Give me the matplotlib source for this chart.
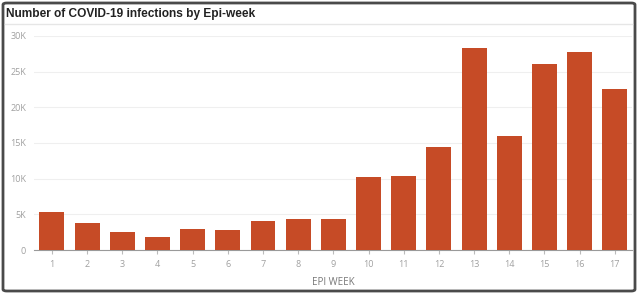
import matplotlib
matplotlib.use("Agg")
import matplotlib.pyplot as plt
from matplotlib.patches import FancyBboxPatch
from matplotlib.lines import Line2D
from matplotlib.ticker import FuncFormatter

weeks = [str(i) for i in range(1, 18)]
infections = [5370, 3830, 2470, 1770, 2900, 2800, 4000, 4380, 4340,
              10270, 10400, 14470, 28300, 15970, 26050, 27800, 22600]
y_ticks = [0, 5000, 10000, 15000, 20000, 25000, 30000]
title = "Number of COVID-19 infections by Epi-week"
x_label = "EPI WEEK"

W, H = 640, 294
fig = plt.figure(figsize=(W / 100, H / 100), dpi=100)
fig.patch.set_facecolor("white")

# outer frame
frame = FancyBboxPatch((3 / W, 3 / H), 632 / W, 288 / H,
                       boxstyle="round,pad=0,rounding_size=0.006",
                       transform=fig.transFigure, fill=False,
                       edgecolor="#4a4a4a", linewidth=2.0)
fig.patches.append(frame)
# title separator
fig.add_artist(Line2D([5 / W, 632 / W], [1 - 24 / H, 1 - 24 / H],
                      transform=fig.transFigure, color="#e6e6e6", lw=1.0))
fig.text(6 / W, 1 - 14 / H, title, fontsize=8.6, fontweight="bold",
         family="Liberation Sans", color="#222222", va="center", ha="left")

left, right = 34.4 / W, 632.3 / W
bottom, top = (H - 250) / H, (H - 35.8) / H
ax = fig.add_axes([left, bottom, right - left, top - bottom])
x = list(range(len(weeks)))
ax.bar(x, infections, width=0.71, color="#C64B26", zorder=3)
ax.set_xlim(-0.5, len(weeks) - 0.5)
ax.set_ylim(0, 30000)
ax.set_xticks(x)
ax.set_xticklabels(weeks)
ax.set_yticks(y_ticks)
ax.yaxis.set_major_formatter(FuncFormatter(lambda v, p: "0" if v == 0 else f"{int(v/1000)}K"))
for s in ["top", "right", "left"]:
    ax.spines[s].set_visible(False)
ax.spines["bottom"].set_color("#9a9a9a")
ax.spines["bottom"].set_linewidth(0.8)
ax.grid(axis="y", color="#efefef", lw=0.8, zorder=0)
ax.tick_params(axis="x", length=3, color="#bbbbbb", labelsize=6.5,
               labelcolor="#a0a0a0", pad=4)
ax.tick_params(axis="y", length=0, labelsize=6.5, labelcolor="#a0a0a0", pad=6)
for lab in ax.get_xticklabels() + ax.get_yticklabels():
    lab.set_family("Open Sans")
ax.set_xlabel(x_label, fontsize=7, color="#777777", family="Open Sans", labelpad=6)

fig.savefig("out.png", dpi=100)
